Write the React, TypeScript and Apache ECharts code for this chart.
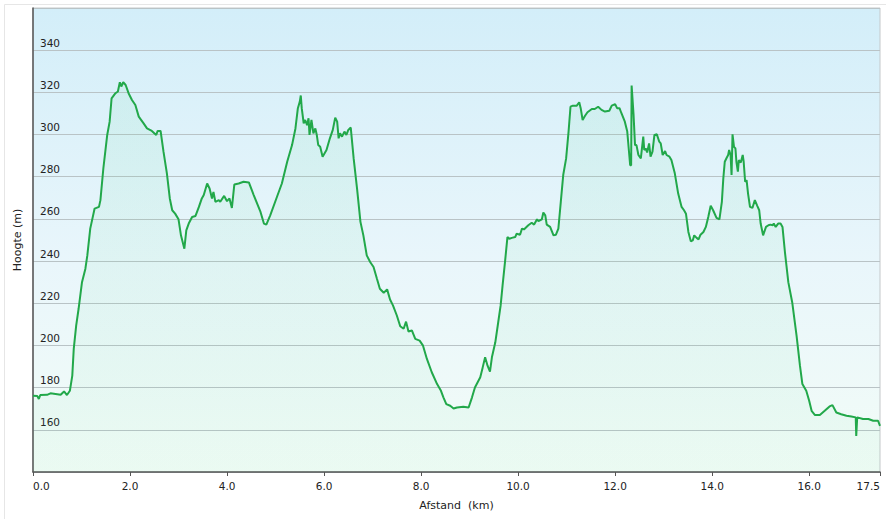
import React, { useEffect, useRef } from "react";
import * as echarts from "echarts";

const distanceKm: number[] = [
  0, 0.09, 0.12, 0.15, 0.29, 0.36, 0.57, 0.64, 0.7, 0.76, 0.81, 0.84, 0.89, 0.94, 1.01, 1.08, 1.12, 1.18, 1.27, 1.36,
  1.39, 1.45, 1.53, 1.58, 1.62, 1.7, 1.75, 1.79, 1.82, 1.86, 1.91, 1.97, 2.04, 2.11, 2.18, 2.28, 2.35, 2.45, 2.54, 2.57,
  2.63, 2.69, 2.76, 2.82, 2.87, 2.93, 3.0, 3.05, 3.12, 3.16, 3.21, 3.28, 3.35, 3.42, 3.48, 3.52, 3.59, 3.64, 3.69, 3.72,
  3.76, 3.83, 3.86, 3.94, 4.0, 4.05, 4.1, 4.15, 4.24, 4.34, 4.45, 4.55, 4.69, 4.76, 4.81, 4.89, 5.03, 5.13, 5.24, 5.34,
  5.41, 5.46, 5.5, 5.52, 5.54, 5.58, 5.61, 5.65, 5.68, 5.7, 5.74, 5.78, 5.82, 5.85, 5.88, 5.92, 5.97, 6.05, 6.12, 6.18,
  6.23, 6.27, 6.3, 6.33, 6.37, 6.42, 6.46, 6.5, 6.55, 6.61, 6.68, 6.75, 6.81, 6.88, 6.95, 7.02, 7.09, 7.15, 7.23, 7.3,
  7.36, 7.42, 7.5, 7.57, 7.64, 7.69, 7.74, 7.81, 7.88, 7.97, 8.04, 8.12, 8.22, 8.33, 8.41, 8.46, 8.52, 8.6, 8.67, 8.74,
  8.87, 8.98, 9.05, 9.11, 9.22, 9.27, 9.32, 9.37, 9.42, 9.46, 9.53, 9.59, 9.64, 9.68, 9.73, 9.78, 9.82, 9.87, 9.94, 9.97,
  10.04, 10.08, 10.12, 10.21, 10.28, 10.33, 10.39, 10.42, 10.49, 10.52, 10.56, 10.59, 10.66, 10.73, 10.78, 10.83, 10.88, 10.93, 10.99, 11.04,
  11.08, 11.13, 11.21, 11.26, 11.29, 11.33, 11.38, 11.43, 11.52, 11.58, 11.65, 11.72, 11.79, 11.88, 11.93, 12.0, 12.04, 12.09, 12.13, 12.2,
  12.25, 12.28, 12.31, 12.33, 12.34, 12.38, 12.41, 12.44, 12.48, 12.53, 12.58, 12.6, 12.63, 12.66, 12.7, 12.73, 12.77, 12.81, 12.86, 12.91,
  12.94, 12.98, 13.03, 13.06, 13.12, 13.16, 13.23, 13.3, 13.37, 13.42, 13.46, 13.51, 13.56, 13.6, 13.63, 13.68, 13.72, 13.76, 13.82, 13.87,
  13.92, 13.97, 14.02, 14.09, 14.15, 14.2, 14.23, 14.26, 14.3, 14.33, 14.35, 14.38, 14.4, 14.42, 14.45, 14.48, 14.5, 14.53, 14.55, 14.59,
  14.63, 14.65, 14.68, 14.71, 14.74, 14.78, 14.83, 14.88, 14.93, 14.97, 15.0, 15.05, 15.11, 15.16, 15.2, 15.25, 15.27, 15.31, 15.36, 15.41,
  15.45, 15.5, 15.57, 15.65, 15.74, 15.81, 15.86, 15.94, 16.0, 16.05, 16.12, 16.22, 16.32, 16.42, 16.48, 16.56, 16.66, 16.77, 16.87, 16.96,
  16.97, 16.99, 17.11, 17.22, 17.32, 17.42, 17.46,
];

const elevationM: number[] = [
  176.2, 176, 174.6, 176.5, 176.6, 177.3, 176.6, 178.2, 176.5, 178.5, 185.7, 198.4, 209.4, 217.4, 230, 236.4, 242.7, 255.4, 264.9, 265.7,
  268.9, 283.9, 299.8, 306.1, 317.2, 319.6, 320.4, 324.8, 322.8, 324.8, 323.5, 319.6, 316.4, 314, 308.5, 305.3, 302.9, 301.7, 299.8, 301.7,
  301.7, 291.9, 281.6, 269.7, 264.1, 262.5, 259.8, 252.2, 245.9, 254.6, 257.8, 260.9, 261.4, 265.7, 269.7, 271.3, 276.8, 274.4, 269.7, 272.8,
  268.1, 268.9, 268.1, 270.9, 268.4, 269.7, 265.2, 276.3, 276.8, 277.6, 277.3, 271.3, 263.3, 257.8, 257.3, 261.7, 270.5, 276.8, 287.1, 295,
  302.9, 312.5, 315.6, 318.5, 312.5, 305.3, 306.9, 304.5, 307.7, 299.8, 306.9, 300.6, 302.9, 299.8, 295, 294.2, 289.5, 292.7, 298.2, 302.2,
  308, 306.1, 298.2, 300.6, 299, 301.4, 299.8, 302.2, 303.3, 288.7, 274.4, 258.6, 252.2, 242.7, 239.6, 237.2, 231.6, 226.9, 225, 226.6,
  221.8, 219, 214.2, 209.1, 207.9, 211.3, 206.6, 207.1, 203.1, 202.3, 199.9, 193.6, 187.3, 181.7, 178.5, 175.4, 172.2, 171.4, 170.1, 170.6,
  170.9, 170.6, 175.4, 180.1, 184.9, 189.6, 194.4, 190.4, 187.6, 194.4, 201.5, 211, 219, 228.5, 239.6, 251.4, 250.6, 251, 251.4, 253,
  252.5, 255.4, 255, 257, 258.2, 257.3, 259.8, 259, 259.8, 263, 261.7, 257.3, 256.2, 252.2, 252.5, 255.4, 268.1, 280.8, 288.7, 301.4,
  313.2, 313.7, 313.7, 315.3, 312.5, 306.9, 308.9, 310.6, 312.1, 312.1, 313.2, 311.7, 310.9, 311.3, 313.7, 314.4, 312.5, 312.5, 310.1, 306.1,
  301.4, 293.4, 285.5, 285.5, 323.2, 309.3, 295, 295, 290.3, 288.7, 299, 292.7, 293.4, 291.5, 295.8, 289.5, 291.9, 299.8, 300.1, 296.6,
  295.8, 290.3, 292.2, 290.3, 289.5, 287.9, 281.6, 272, 265.7, 264.1, 262.5, 253.8, 249.4, 249.8, 252.2, 251, 250.3, 252.5, 253.8, 256.2,
  260.9, 266.2, 264.1, 260.5, 259.8, 268.1, 279.2, 287.1, 289, 290.3, 292.7, 290.3, 280.8, 300.1, 294.2, 293.4, 287.1, 282.4, 287.9, 286.7,
  290.3, 287.1, 277.6, 278.4, 272, 265.7, 265.2, 268.9, 266.2, 264.1, 257.8, 252.2, 256.2, 257, 257.3, 257, 257.8, 256.2, 257.8, 257.8,
  256.2, 244.3, 230, 220.5, 204.7, 190.4, 181.7, 178.5, 173.8, 169, 167, 167, 169, 171.1, 171.7, 168.2, 167.4, 166.7, 166.3, 165.9,
  157.1, 165.9, 165.1, 165.1, 164.3, 164.3, 161.9,
];

const yTickLabels: number[] = [160, 180, 200, 220, 240, 260, 280, 300, 320, 340];

export default function App() {
  const ref = useRef<HTMLDivElement>(null);

  useEffect(() => {
    document.body.style.margin = "0";
    const chart = echarts.init(ref.current!, undefined, { renderer: "svg" });
    const font = "'DejaVu Sans', Verdana, sans-serif";
    const points = distanceKm.map((d, i) => [d, elevationM[i]]);
    chart.setOption({
      animation: false,
      backgroundColor: "#ffffff",
      graphic: [
        {
          type: "rect",
          left: 2,
          top: 2,
          shape: { width: 882, height: 515 },
          style: { fill: "none", stroke: "#e6e6e6", lineWidth: 1 },
          z: -10,
        },
      ],
      grid: {
        left: 33,
        top: 8,
        right: 6,
        bottom: 47,
        show: true,
        borderColor: "#c4c8ca",
        borderWidth: 1,
        backgroundColor: new echarts.graphic.LinearGradient(0, 0, 0, 1, [
          { offset: 0, color: "#d3eef9" },
          { offset: 0.55, color: "#e9f6fb" },
          { offset: 1, color: "#f2fcf7" },
        ]),
      },
      xAxis: {
        type: "value",
        min: 0,
        max: 17.46,
        interval: 2,
        name: "Afstand  (km)",
        nameLocation: "middle",
        nameGap: 28,
        nameTextStyle: { fontFamily: font, fontSize: 11, color: "#222" },
        axisLine: { show: true, lineStyle: { color: "#555", width: 1.5 } },
        axisTick: { show: true, length: 4, lineStyle: { color: "#555" } },
        axisLabel: {
          fontFamily: font,
          fontSize: 10.5,
          color: "#222",
          margin: 8,
          alignMinLabel: "left",
          alignMaxLabel: "right",
          formatter: (v: number) => v.toFixed(1),
        },
        splitLine: { show: false },
      },
      yAxis: {
        type: "value",
        min: 140,
        max: 360,
        interval: 20,
        name: "Hoogte (m)",
        nameLocation: "middle",
        nameGap: 10,
        nameRotate: 90,
        nameTextStyle: { fontFamily: font, fontSize: 11, color: "#222" },
        axisLine: { show: true, lineStyle: { color: "#555", width: 1.5 } },
        axisTick: { show: false },
        axisLabel: {
          inside: true,
          margin: 7,
          fontFamily: font,
          fontSize: 10.5,
          color: "#222",
          verticalAlign: "bottom",
          padding: [0, 0, 2, 0],
          formatter: (v: number) => (yTickLabels.indexOf(v) >= 0 ? String(v) : ""),
        },
        splitLine: {
          show: true,
          lineStyle: { color: "#b9c3c6", width: 1 },
        },
      },
      series: [
        {
          type: "line",
          data: points,
          showSymbol: false,
          symbol: "none",
          lineStyle: { color: "#22a84a", width: 2 },
          areaStyle: {
            color: new echarts.graphic.LinearGradient(0, 0, 0, 1, [
              { offset: 0, color: "rgba(90, 215, 140, 0.13)" },
              { offset: 1, color: "rgba(90, 215, 140, 0.07)" },
            ]),
          },
          z: 3,
        },
      ],
    });
    return () => chart.dispose();
  }, []);

  return <div ref={ref} style={{ width: 886, height: 519 }} />;
}
